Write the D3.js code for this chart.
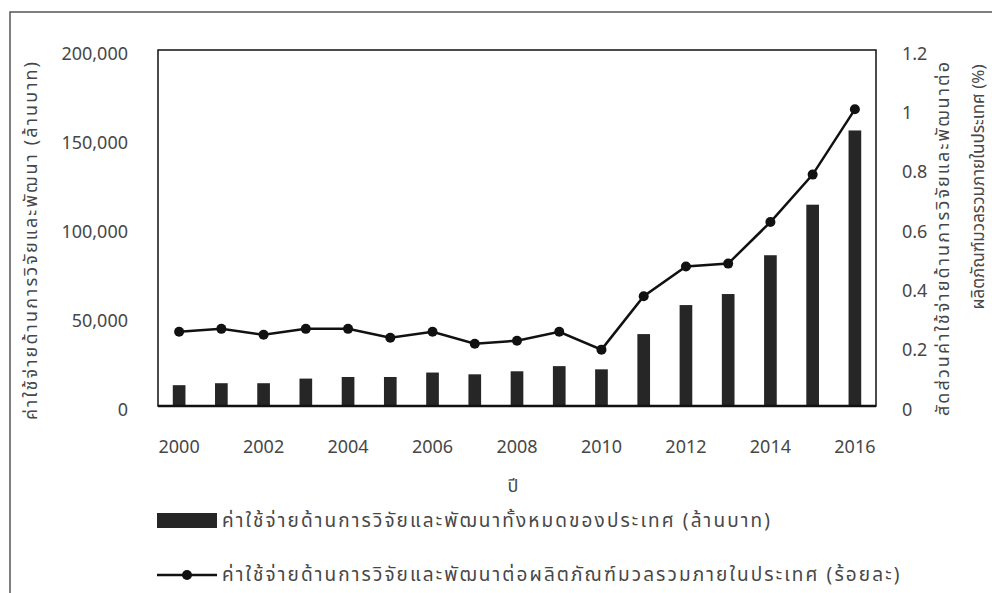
<!DOCTYPE html>
<html>
<head>
<meta charset="utf-8">
<script src="https://cdn.jsdelivr.net/npm/d3@7"></script>
<style>
  html, body { margin: 0; padding: 0; background: #fff; }
  svg text { font-family: "Noto Sans Thai", "Leelawadee UI", Tahoma, "Open Sans", sans-serif; }
  .thai { letter-spacing: 2.1px; }
</style>
</head>
<body>
<svg id="chart" width="992" height="593"></svg>
<script>
// Years on the category axis
const years = [2000, 2001, 2002, 2003, 2004, 2005, 2006, 2007, 2008,
               2009, 2010, 2011, 2012, 2013, 2014, 2015, 2016];
// Total national R&D expenditure (million baht)
const spending = [11700, 12800, 12800, 15400, 16300, 16300, 18800, 17800, 19500,
                  22400, 20600, 40400, 56700, 62900, 84700, 113100, 154800];
// R&D expenditure as a share of GDP (%)
const gdpShare = [0.25, 0.26, 0.24, 0.26, 0.26, 0.23, 0.25, 0.21, 0.22,
                  0.25, 0.19, 0.37, 0.47, 0.48, 0.62, 0.78, 1.00];
// Axis tick values
const leftTicks = [0, 50000, 100000, 150000, 200000];
const rightTicks = [0, 0.2, 0.4, 0.6, 0.8, 1, 1.2];
const xTickYears = [2000, 2002, 2004, 2006, 2008, 2010, 2012, 2014, 2016];

const leftTitle = "ค่าใช้จ่ายด้านการวิจัยและพัฒนา (ล้านบาท)";
const rightTitle1 = "สัดส่วนค่าใช้จ่ายด้านการวิจัยและพัฒนาต่อ";
const rightTitle2 = "ผลิตภัณฑ์มวลรวมภายในประเทศ (%)";
const xTitle = "ปี";
const barLegend = "ค่าใช้จ่ายด้านการวิจัยและพัฒนาทั้งหมดของประเทศ (ล้านบาท)";
const lineLegend = "ค่าใช้จ่ายด้านการวิจัยและพัฒนาต่อผลิตภัณฑ์มวลรวมภายในประเทศ (ร้อยละ)";

const svg = d3.select("#chart");
const plot = { left: 158, right: 876, top: 50, bottom: 406 };
const textColor = "#474747";

// outer frame (only the left and top edges fall inside the page)
svg.append("path")
  .attr("d", "M10,593 V12 H992")
  .attr("fill", "none").attr("stroke", "#555").attr("stroke-width", 1.5);

const x = d3.scaleBand().domain(years).range([plot.left, plot.right])
  .paddingInner(0.7).paddingOuter(0.35);
const yL = d3.scaleLinear().domain([0, 200000]).range([plot.bottom, plot.top]);
const yR = d3.scaleLinear().domain([0, 1.2]).range([plot.bottom, plot.top]);

// plot-area box
svg.append("rect")
  .attr("x", plot.left).attr("y", plot.top)
  .attr("width", plot.right - plot.left).attr("height", plot.bottom - plot.top)
  .attr("fill", "none").attr("stroke", "#111").attr("stroke-width", 1.5);

// bars
svg.append("g").selectAll("rect").data(years).join("rect")
  .attr("x", (d) => x(d))
  .attr("y", (d, i) => yL(spending[i]))
  .attr("width", x.bandwidth())
  .attr("height", (d, i) => yL(0) - yL(spending[i]))
  .attr("fill", "#262626");

// baseline
svg.append("line")
  .attr("x1", plot.left).attr("x2", plot.right)
  .attr("y1", plot.bottom).attr("y2", plot.bottom)
  .attr("stroke", "#111").attr("stroke-width", 2.5);

// line series with markers
const cx = (d) => x(d) + x.bandwidth() / 2;
svg.append("path")
  .datum(years)
  .attr("d", d3.line().x(cx).y((d, i) => yR(gdpShare[i])))
  .attr("fill", "none").attr("stroke", "#111").attr("stroke-width", 2.5);
svg.append("g").selectAll("circle").data(years).join("circle")
  .attr("cx", cx).attr("cy", (d, i) => yR(gdpShare[i]))
  .attr("r", 5).attr("fill", "#111");

// left axis labels
const fmt = d3.format(",");
const axL = svg.append("g")
  .attr("transform", `translate(${plot.left},0)`)
  .call(d3.axisLeft(yL).tickValues(leftTicks).tickFormat(fmt).tickSize(0).tickPadding(30));
axL.select(".domain").remove();
axL.selectAll("text").attr("fill", textColor).attr("dy", "0.5em").style("font-size", "18px");

// right axis labels
const axR = svg.append("g")
  .attr("transform", `translate(${plot.right},0)`)
  .call(d3.axisRight(yR).tickValues(rightTicks).tickFormat(d3.format("~g")).tickSize(0).tickPadding(26));
axR.select(".domain").remove();
axR.selectAll("text").attr("fill", textColor).attr("dy", "0.5em").style("font-size", "18px");

// bottom axis labels
const axB = svg.append("g")
  .attr("transform", `translate(0,${plot.bottom})`)
  .call(d3.axisBottom(x).tickValues(xTickYears).tickSize(0).tickPadding(34));
axB.select(".domain").remove();
axB.selectAll("text").attr("fill", textColor).style("font-size", "18px");

// axis titles
svg.append("text").attr("class", "thai")
  .attr("transform", "translate(31,240) rotate(-90)")
  .attr("text-anchor", "middle").attr("dominant-baseline", "central")
  .attr("fill", textColor).style("font-size", "18px").text(leftTitle);
svg.append("text").attr("class", "thai")
  .attr("transform", "translate(943,238) rotate(-90)")
  .attr("text-anchor", "middle").attr("dominant-baseline", "central")
  .attr("fill", textColor).style("font-size", "18px").text(rightTitle1);
svg.append("text")
  .attr("transform", "translate(979,187) rotate(-90)")
  .attr("text-anchor", "middle").attr("dominant-baseline", "central")
  .attr("fill", textColor).style("font-size", "17px").text(rightTitle2);
svg.append("text")
  .attr("x", 513).attr("y", 486)
  .attr("text-anchor", "middle").attr("dominant-baseline", "central")
  .attr("fill", textColor).style("font-size", "18px").text(xTitle);

// legend
const lg = svg.append("g");
lg.append("rect").attr("x", 157).attr("y", 513).attr("width", 60).attr("height", 15).attr("fill", "#262626");
lg.append("text").attr("class", "thai").attr("x", 222).attr("y", 521).attr("dominant-baseline", "central")
  .attr("fill", textColor).style("font-size", "19px").text(barLegend);
lg.append("line").attr("x1", 157).attr("x2", 217).attr("y1", 575).attr("y2", 575)
  .attr("stroke", "#111").attr("stroke-width", 2.5);
lg.append("circle").attr("cx", 187).attr("cy", 575).attr("r", 5).attr("fill", "#111");
lg.append("text").attr("class", "thai").attr("x", 222).attr("y", 575).attr("dominant-baseline", "central")
  .attr("fill", textColor).style("font-size", "19px").text(lineLegend);
</script>
</body>
</html>
